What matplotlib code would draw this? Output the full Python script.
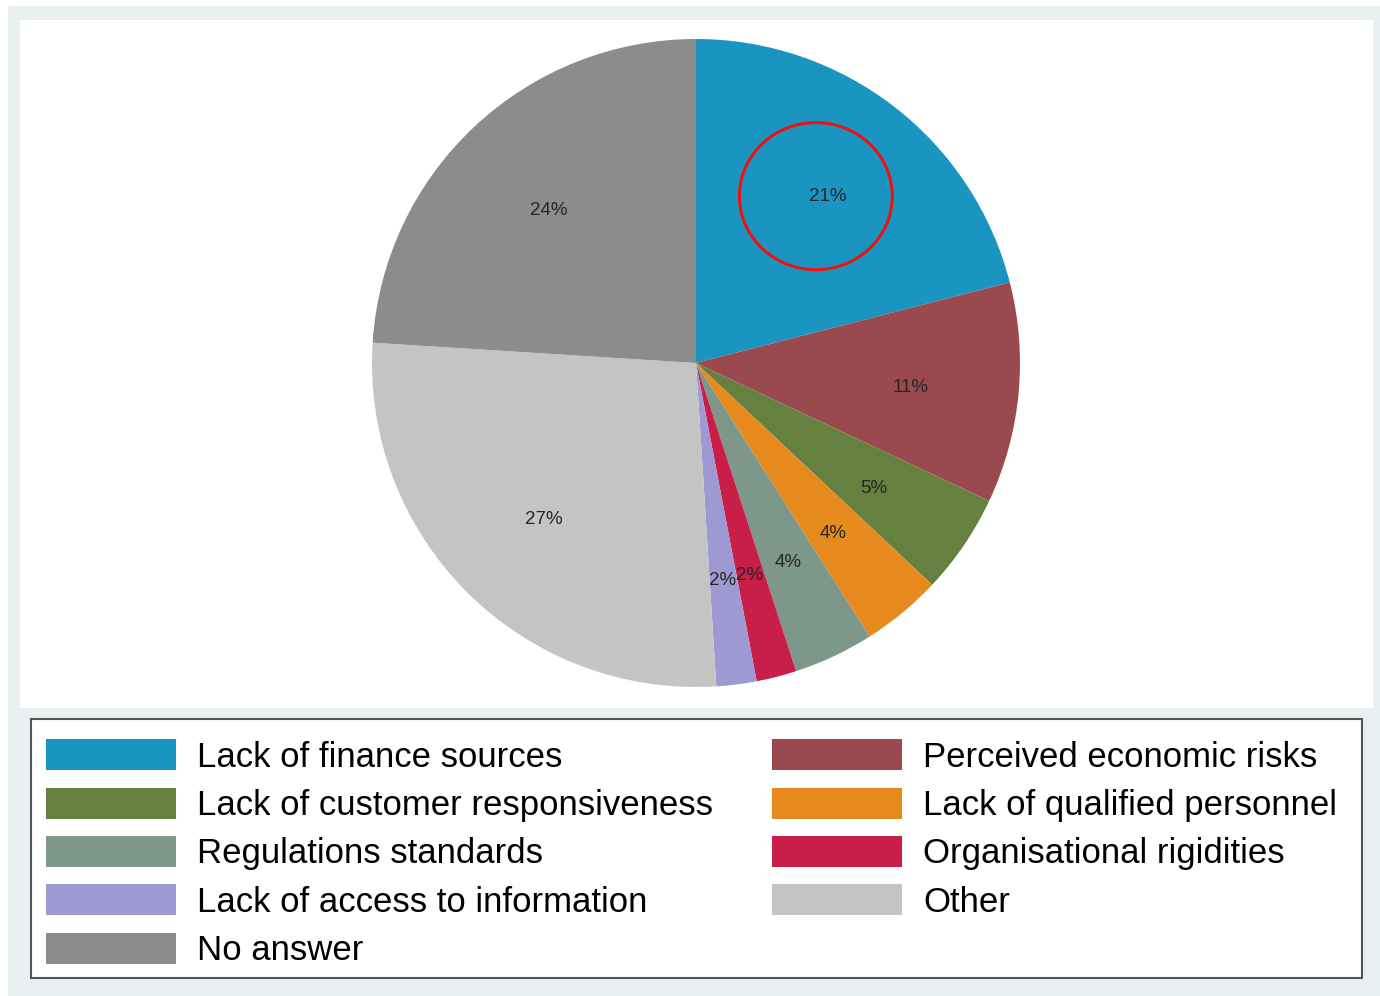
import matplotlib
matplotlib.use("Agg")
import matplotlib.pyplot as plt
from matplotlib.patches import Rectangle, Ellipse, Patch

plt.rcParams['font.family'] = ['Liberation Sans', 'DejaVu Sans']

# obstacle categories, in pie order (clockwise from 12 o'clock)
categories = ["Lack of finance sources", "Perceived economic risks",
              "Lack of customer responsiveness", "Lack of qualified personnel",
              "Regulations standards", "Organisational rigidities",
              "Lack of access to information", "Other", "No answer"]
shares = [21, 11, 5, 4, 4, 2, 2, 27, 24]
colors = ["#1a95c2", "#9a4a4e", "#66803f", "#e68a1e", "#7d978b",
          "#c81e47", "#9e99d3", "#c4c4c4", "#8c8c8c"]

W, H = 1380, 996
fig = plt.figure(figsize=(W / 100, H / 100), dpi=100, facecolor="white")

def fbox(x0, y0, x1, y1):
    # pixel box (top-left origin) -> figure fraction rect
    return (x0 / W, 1 - y1 / H), (x1 - x0) / W, (y1 - y0) / H

xy, w, h = fbox(8, 6, 1380, 996)
fig.patches.append(Rectangle(xy, w, h, transform=fig.transFigure,
                             facecolor="#e9f0f2", edgecolor="none", zorder=-2))
xy, w, h = fbox(20, 20, 1373, 708)
fig.patches.append(Rectangle(xy, w, h, transform=fig.transFigure,
                             facecolor="white", edgecolor="none", zorder=-1))
xy, w, h = fbox(31, 719, 1362, 978)
fig.patches.append(Rectangle(xy, w, h, transform=fig.transFigure,
                             facecolor="white", edgecolor="#555555",
                             linewidth=1.5, zorder=-1))

cx, cy, r = 696, 363, 324
ax = fig.add_axes([(cx - r) / W, 1 - (cy + r) / H, 2 * r / W, 2 * r / H])
ax.set_axis_off()
ax.set_zorder(1)

wedges, _, autotexts = ax.pie(
    shares, colors=colors, startangle=90, counterclock=False, radius=1,
    autopct=lambda p: f"{p:.0f}%", pctdistance=0.665,
    wedgeprops=dict(linewidth=0),
    textprops=dict(fontsize=13.5, color="#262626"))
# nudge the percentage labels onto the baseline used by the slices
for t in autotexts:
    x, y = t.get_position()
    t.set_position((x, y - 0.013))
ax.set_xlim(-1, 1)
ax.set_ylim(-1, 1)

# highlight ring round the finance share
ax.add_patch(Ellipse((0.370, 0.515), 0.472, 0.454, fill=False,
                     edgecolor="#ee1111", linewidth=2.2, zorder=5))

# legend reads row-wise in two columns
order = [0, 2, 4, 6, 8, 1, 3, 5, 7]
handles = [Patch(facecolor=colors[i], edgecolor="none") for i in order]
labels = [categories[i] for i in order]
leg = fig.legend(handles, labels, ncol=2, loc="upper left",
                 bbox_to_anchor=(29 / W, 1 - 722 / H),
                 fontsize=25, handlelength=3.72, handleheight=1.0,
                 handletextpad=0.63, labelspacing=0.4, borderpad=0.5,
                 columnspacing=1.7, borderaxespad=0, frameon=False)

fig.savefig("out.png", dpi=100, facecolor=fig.get_facecolor())
